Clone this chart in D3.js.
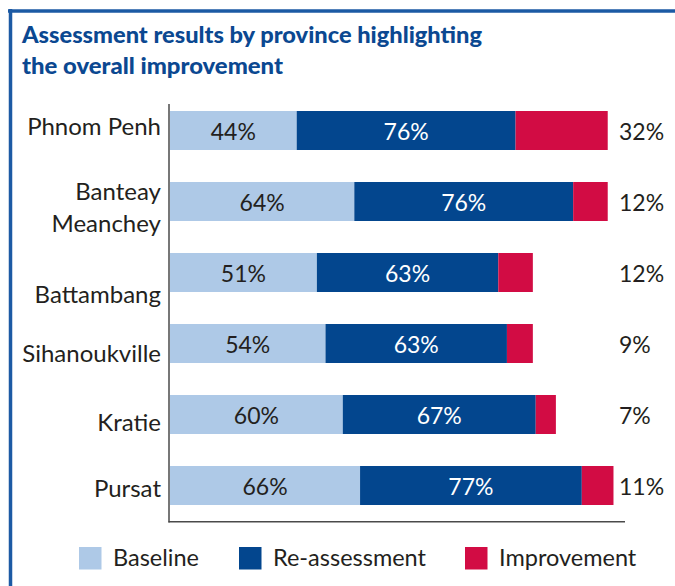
<!DOCTYPE html>
<html>
<head>
<meta charset="utf-8">
<script src="https://cdn.jsdelivr.net/npm/d3@7"></script>
<style>
  html, body { margin: 0; padding: 0; background: #fff; }
  svg { display: block; }
</style>
</head>
<body>
<svg id="chart" width="675" height="586"></svg>
<script>
// ---- data ----
const provinces = ["Phnom Penh", "Banteay Meanchey", "Battambang", "Sihanoukville", "Kratie", "Pursat"];
const baseline = [44, 64, 51, 54, 60, 66];
const reassessment = [76, 76, 63, 63, 67, 77];
const improvement = [32, 12, 12, 9, 7, 11];
const seriesNames = ["Baseline", "Re-assessment", "Improvement"];
const titleLines = ["Assessment results by province highlighting", "the overall improvement"];

// ---- layout / style ----
const W = 675, H = 586;
const colors = ["#aec9e7", "#03468e", "#d20c44"];
const textColor = "#231f20";
const titleColor = "#0b4891";
const borderColor = "#1c5aa4";
const font = "Lato, 'Open Sans', sans-serif";
const labelLines = { "Banteay Meanchey": ["Banteay", "Meanchey"] };
const labelDy = [4.5, -1.5, 30, 18, 16, 11];
const titleWidths = [460, 261];

const svg = d3.select("#chart");

// border (top + left)
svg.append("line").attr("x1", 8).attr("x2", W).attr("y1", 11).attr("y2", 11)
  .attr("stroke", borderColor).attr("stroke-width", 3.5);
svg.append("line").attr("x1", 10.5).attr("x2", 10.5).attr("y1", 9).attr("y2", H)
  .attr("stroke", borderColor).attr("stroke-width", 3.5);

// title
titleLines.forEach((t, i) => {
  const tx = svg.append("text")
    .attr("x", 22).attr("y", 43 + i * 30.5)
    .attr("font-family", font).attr("font-weight", 900)
    .attr("font-size", 22.5).attr("fill", titleColor)
    .text(t);
  tx.attr("textLength", titleWidths[i]).attr("lengthAdjust", "spacingAndGlyphs");
});

// scales
const x = d3.scaleLinear().domain([0, 158]).range([170, 625]);
const y = d3.scaleBand().domain(provinces).range([95, 521]).paddingInner(32 / 71).paddingOuter(16 / 71);

// stacked data
const rows = provinces.map((p, i) => ({ province: p, Baseline: baseline[i], "Re-assessment": reassessment[i], Improvement: improvement[i] }));
const stack = d3.stack().keys(seriesNames)(rows);

const g = svg.append("g");
stack.forEach((layer, li) => {
  g.selectAll(null).data(layer).enter().append("rect")
    .attr("x", d => x(d[0]))
    .attr("width", d => x(d[1]) - x(d[0]))
    .attr("y", d => y(d.data.province))
    .attr("height", y.bandwidth())
    .attr("fill", colors[li]);
});

// in-bar labels for baseline and re-assessment
[0, 1].forEach(li => {
  g.selectAll(null).data(stack[li]).enter().append("text")
    .attr("x", d => (x(d[0]) + x(d[1])) / 2)
    .attr("y", d => y(d.data.province) + y.bandwidth() / 2 + 9)
    .attr("text-anchor", "middle")
    .attr("font-family", font).attr("font-size", 23)
    .attr("fill", li === 0 ? textColor : "#ffffff")
    .text(d => d[1] - d[0] + "%");
});

// improvement labels at right
g.selectAll(null).data(stack[2]).enter().append("text")
  .attr("x", 619)
  .attr("y", d => y(d.data.province) + y.bandwidth() / 2 + 9)
  .attr("font-family", font).attr("font-size", 23)
  .attr("fill", textColor)
  .text(d => d[1] - d[0] + "%");

// category labels
provinces.forEach((p, i) => {
  const lines = labelLines[p] || [p];
  const t = svg.append("text")
    .attr("text-anchor", "end")
    .attr("font-family", font).attr("font-size", 24)
    .attr("fill", textColor);
  lines.forEach((ln, k) => {
    t.append("tspan").attr("x", 161)
      .attr("y", y(p) + y.bandwidth() / 2 + labelDy[i] + k * 32)
      .text(ln);
  });
});

// axes lines
svg.append("line").attr("x1", 169).attr("x2", 169).attr("y1", 104).attr("y2", 522.5)
  .attr("stroke", "#4a4a4a").attr("stroke-width", 1.5);
svg.append("line").attr("x1", 168.5).attr("x2", x.range()[1]).attr("y1", 521.8).attr("y2", 521.8)
  .attr("stroke", "#4a4a4a").attr("stroke-width", 1.5);

// legend
const legendX = [79, 239, 465];
seriesNames.forEach((s, i) => {
  svg.append("rect").attr("x", legendX[i]).attr("y", 547).attr("width", 22.5).attr("height", 22.5)
    .attr("fill", colors[i]);
  svg.append("text").attr("x", legendX[i] + 34).attr("y", 565.5)
    .attr("font-family", font).attr("font-size", 23.5).attr("fill", textColor)
    .text(s);
});
</script>
</body>
</html>
